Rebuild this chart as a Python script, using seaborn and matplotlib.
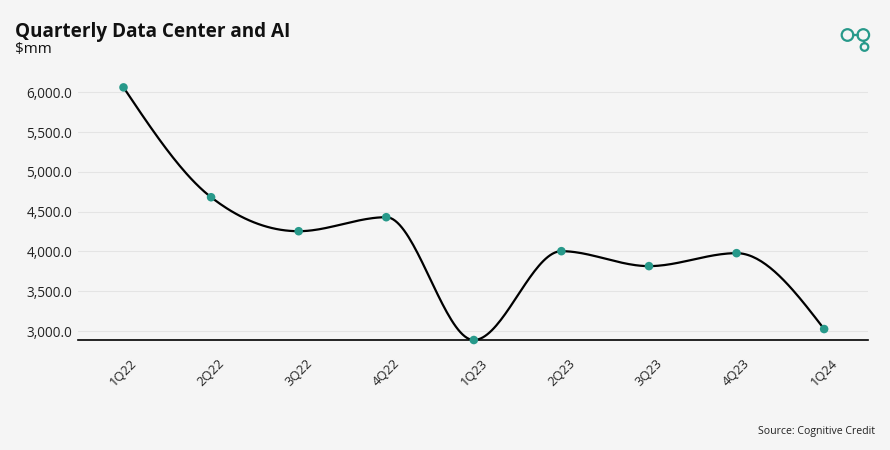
import numpy as np
import pandas as pd
import seaborn as sns
from matplotlib import pyplot as plt
from matplotlib.patches import Circle

# values ($mm)
quarters = ['1Q22', '2Q22', '3Q22', '4Q22', '1Q23', '2Q23', '3Q23', '4Q23', '1Q24']
revenue = [6063, 4682, 4255, 4431, 2887, 4004, 3816, 3979, 3025]
y_ticks = [3000, 3500, 4000, 4500, 5000, 5500, 6000]

teal = '#27998a'
bg = '#f5f5f5'


def monotone_curve(x, y, n=40):
	# monotone cubic (same as d3 curveMonotoneX), used only to draw the line
	x = np.asarray(x, float)
	y = np.asarray(y, float)
	h = np.diff(x)
	s = np.diff(y) / h
	t = np.zeros(len(x))
	for i in range(1, len(x) - 1):
		p = (s[i-1] * h[i] + s[i] * h[i-1]) / (h[i-1] + h[i])
		t[i] = (np.sign(s[i-1]) + np.sign(s[i])) * min(abs(s[i-1]), abs(s[i]), 0.5 * abs(p))
	t[0] = (3 * s[0] - t[1]) / 2
	t[-1] = (3 * s[-1] - t[-2]) / 2
	xs, ys = [], []
	for i in range(len(x) - 1):
		u = np.linspace(0, 1, n)
		h00 = 2*u**3 - 3*u**2 + 1
		h10 = u**3 - 2*u**2 + u
		h01 = -2*u**3 + 3*u**2
		h11 = u**3 - u**2
		xs.append(x[i] + u * h[i])
		ys.append(h00*y[i] + h10*h[i]*t[i] + h01*y[i+1] + h11*h[i]*t[i+1])
	return np.concatenate(xs), np.concatenate(ys)


sns.set_style('white')
plt.rcParams['font.family'] = ['Open Sans', 'DejaVu Sans']

df = pd.DataFrame({'pos': np.arange(len(quarters)), 'value': revenue})
cx, cy = monotone_curve(df['pos'], df['value'])
curve = pd.DataFrame({'pos': cx, 'value': cy})

fig = plt.figure(figsize=(8.9, 4.5), dpi=100, facecolor=bg)
ax = fig.add_axes([0.0876, 0.2444, 0.8876, 0.5644])
ax.set_facecolor(bg)

sns.lineplot(data=curve, x='pos', y='value', color='black', linewidth=1.6, ax=ax, sort=False)
sns.scatterplot(data=df, x='pos', y='value', color=teal, s=38, edgecolor='none', zorder=5, ax=ax, clip_on=False)

ax.set_xlim(-0.52, 8.5)
ax.set_ylim(min(revenue), 6080)
ax.set_yticks(y_ticks)
ax.set_yticklabels([f'{v:,.1f}' for v in y_ticks], fontsize=9.8, color='#222222')
ax.set_xticks(df['pos'])
ax.set_xticklabels(quarters, rotation=45, ha='center', fontsize=9.3, color='#222222')
ax.tick_params(axis='x', length=0, pad=12)
ax.tick_params(axis='y', length=0, pad=4)
ax.grid(axis='y', color='#e4e4e4', linewidth=0.8)
ax.set_axisbelow(True)
ax.set_xlabel('')
ax.set_ylabel('')
for side in ['top', 'right', 'left']:
	ax.spines[side].set_visible(False)
ax.spines['bottom'].set_color('black')
ax.spines['bottom'].set_linewidth(1.2)

fig.text(15/890, 1 - 37/450, 'Quarterly Data Center and AI', fontsize=13.6, fontweight='bold', color='#111111')
fig.text(15/890, 1 - 53/450, '$mm', fontsize=11, color='#111111')
fig.text(875/890, 1 - 434/450, 'Source: Cognitive Credit', fontsize=7.6, color='#222222', ha='right')

# logo top right
W, H = 890, 450
logo = fig.add_axes([0, 0, 1, 1], facecolor='none')
logo.set_xlim(0, W)
logo.set_ylim(H, 0)
logo.axis('off')
for (lx, ly, r) in [(847.5, 35, 5.8), (863.3, 35, 5.8), (864.5, 47, 3.8)]:
	logo.add_patch(Circle((lx, ly), r, fill=False, edgecolor=teal, linewidth=1.6))
logo.plot([853.3, 857.5], [35, 35], color=teal, linewidth=1.6)
logo.plot([864, 864.3], [40.8, 43.2], color=teal, linewidth=1.6)

plt.savefig('out.png', dpi=100, facecolor=bg)
